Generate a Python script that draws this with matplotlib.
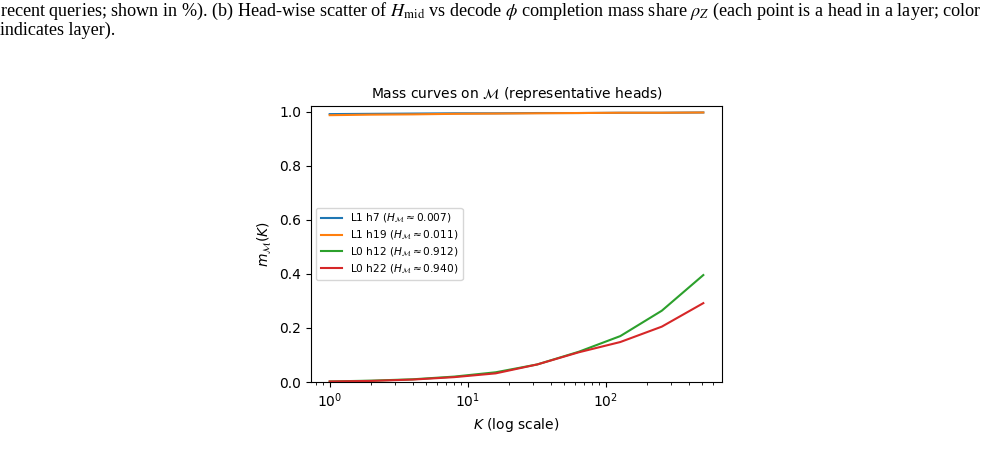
import numpy as np
import matplotlib
matplotlib.use("Agg")
import matplotlib.pyplot as plt

# Data
K = [1, 2, 4, 8, 16, 32, 64, 128, 256, 512]
series_labels = [
    r"L1 h7 ($H_{\mathcal{M}} \approx 0.007$)",
    r"L1 h19 ($H_{\mathcal{M}} \approx 0.011$)",
    r"L0 h12 ($H_{\mathcal{M}} \approx 0.912$)",
    r"L0 h22 ($H_{\mathcal{M}} \approx 0.940$)",
]
m_l1_h7 = [0.992, 0.993, 0.994, 0.995, 0.995, 0.996, 0.996, 0.997, 0.997, 0.998]
m_l1_h19 = [0.988, 0.990, 0.991, 0.993, 0.994, 0.995, 0.996, 0.997, 0.997, 0.998]
m_l0_h12 = [0.002, 0.005, 0.010, 0.020, 0.036, 0.065, 0.112, 0.170, 0.264, 0.396]
m_l0_h22 = [0.002, 0.004, 0.009, 0.018, 0.032, 0.065, 0.110, 0.148, 0.205, 0.292]
colors = ["#1f77b4", "#ff7f0e", "#2ca02c", "#d62728"]

caption_1 = (r"recent queries; shown in %). (b) Head-wise scatter of $H_{\mathrm{mid}}$ vs decode "
             r"$\phi$ completion mass share $\rho_Z$ (each point is a head in a layer; color")
caption_2 = "indicates layer)."

fig = plt.figure(figsize=(9.86, 4.55), dpi=100)
ax = fig.add_axes([311 / 986, 1 - 382 / 455, 411 / 986, 276 / 455])

for vals, lab, c in zip([m_l1_h7, m_l1_h19, m_l0_h12, m_l0_h22], series_labels, colors):
    ax.plot(K, vals, color=c, lw=1.5, label=lab)

ax.set_xscale("log")
ax.set_ylim(0, 1.022)
ax.set_title(r"Mass curves on $\mathcal{M}$ (representative heads)", fontsize=10)
ax.set_xlabel(r"$K$ (log scale)", fontsize=10)
ax.set_ylabel(r"$m_{\mathcal{M}}(K)$", fontsize=10)
ax.tick_params(labelsize=10)
ax.legend(loc="center left", fontsize=7.6, labelspacing=0.35)

# caption text from the surrounding page
fig.text(0.0, 1 - 16 / 455, caption_1, fontsize=13.1, family="Liberation Serif",
         math_fontfamily="stix", ha="left", va="baseline")
fig.text(0.0, 1 - 35 / 455, caption_2, fontsize=13.1, family="Liberation Serif",
         math_fontfamily="stix", ha="left", va="baseline")

fig.savefig("out.png", dpi=100)
